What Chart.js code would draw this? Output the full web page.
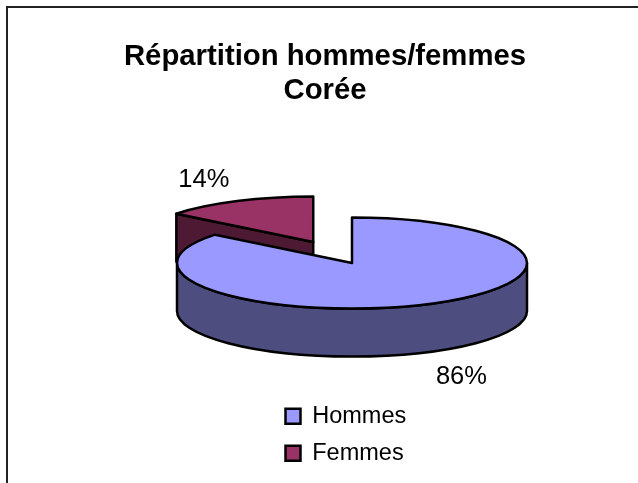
<!DOCTYPE html>
<html>
<head>
<meta charset="utf-8">
<title>Répartition hommes/femmes Corée</title>
<script src="https://cdn.jsdelivr.net/npm/chart.js@4"></script>
<style>
    html, body { margin: 0; padding: 0; background: #fff; }
    canvas { display: block; }
</style>
</head>
<body>
<canvas id="pieChart" width="638" height="483"></canvas>
<script>
const titleLines = ["Répartition hommes/femmes", "Corée"];
const categories = ["Hommes", "Femmes"];
const shares = [85.7, 14.3];
const topColors = ["#9999FF", "#993366"];
const wallColors = ["#4D4D80", "#4D1933"];
const explode = [0, 0.51];

const fontName = "'Liberation Sans', Arial, sans-serif";

// cadre du graphique : seulement haut et gauche sont visibles
const framePlugin = {
    id: "frame",
    beforeDraw(chart) {
        const ctx = chart.ctx;
        ctx.save();
        ctx.strokeStyle = "#222";
        ctx.lineWidth = 2;
        ctx.beginPath();
        ctx.moveTo(7, chart.height);
        ctx.lineTo(7, 7);
        ctx.lineTo(chart.width, 7);
        ctx.stroke();
        ctx.restore();
    }
};

// camembert 3D : reprend les angles calculés par Chart.js et les aplatit en ellipse
const pie3dPlugin = {
    id: "pie3d",
    afterLayout(chart, args, opts) {
        chart.legend.left = opts.legendX;
        chart.legend.top = opts.legendY;
        chart.legend.bottom = opts.legendY + chart.legend.height;
        chart.legend.right = chart.width;
    },
    beforeDatasetDraw(chart, args, opts) {
        const ctx = chart.ctx;
        const arcs = args.meta.data;
        const depth = opts.depth;

        // la part détachée passe derrière
        const order = arcs.map((a, i) => i).sort((a, b) => explode[b] - explode[a]);
        ctx.save();
        ctx.lineWidth = 2.5;
        ctx.lineJoin = "round";
        ctx.strokeStyle = "#000";

        order.forEach(function (i) {
            const arc = arcs[i];
            const rx = arc.outerRadius;
            const ry = rx * opts.tilt;
            const start = arc.startAngle;
            const end = arc.endAngle;
            const mid = (start + end) / 2;
            const cx = opts.centerX + Math.cos(mid) * rx * explode[i];
            const cy = opts.centerY + Math.sin(mid) * ry * explode[i];
            const px = t => cx + Math.cos(t) * rx;
            const py = t => cy + Math.sin(t) * ry;

            ctx.fillStyle = wallColors[i];

            // faces de coupe visibles
            [[start, Math.cos(start) < -1e-6], [end, Math.cos(end) > 1e-6]].forEach(function (face) {
                if (!face[1]) return;
                ctx.beginPath();
                ctx.moveTo(cx, cy);
                ctx.lineTo(px(face[0]), py(face[0]));
                ctx.lineTo(px(face[0]), py(face[0]) + depth);
                ctx.lineTo(cx, cy + depth);
                ctx.closePath();
                ctx.fill();
                ctx.stroke();
            });

            // paroi avant
            const wallStart = Math.max(start, 0);
            const wallEnd = Math.min(end, Math.PI);
            if (wallEnd > wallStart) {
                ctx.beginPath();
                ctx.ellipse(cx, cy, rx, ry, 0, wallStart, wallEnd);
                ctx.ellipse(cx, cy + depth, rx, ry, 0, wallEnd, wallStart, true);
                ctx.closePath();
                ctx.fill();
                ctx.stroke();
            }

            // dessus
            ctx.fillStyle = topColors[i];
            ctx.beginPath();
            ctx.moveTo(cx, cy);
            ctx.ellipse(cx, cy, rx, ry, 0, start, end);
            ctx.closePath();
            ctx.fill();
            ctx.stroke();
        });

        // étiquettes en pourcentage
        const total = shares.reduce((a, b) => a + b, 0);
        ctx.fillStyle = "#000";
        ctx.font = "25.5px " + fontName;
        ctx.textAlign = "center";
        ctx.textBaseline = "middle";
        arcs.forEach(function (arc, i) {
            const rx = arc.outerRadius;
            const ry = rx * opts.tilt;
            const mid = (arc.startAngle + arc.endAngle) / 2;
            const cx = opts.centerX + Math.cos(mid) * rx * explode[i];
            const cy = opts.centerY + Math.sin(mid) * ry * explode[i];
            const x = cx + Math.cos(mid) * rx * 1.44;
            const y = cy + Math.sin(mid) * ry * 1.56 + (Math.sin(mid) > 0 ? depth : 0) + 2;
            ctx.fillText(Math.round(shares[i] / total * 100) + "%", x, y);
        });
        ctx.restore();
        return false;
    }
};

new Chart(document.getElementById("pieChart").getContext("2d"), {
    type: "pie",
    data: {
        labels: categories,
        datasets: [{
            data: shares,
            backgroundColor: topColors,
            borderColor: "#000",
            borderWidth: 2.5
        }]
    },
    options: {
        responsive: false,
        animation: false,
        radius: 175,
        layout: { padding: { left: 12 } },
        plugins: {
            title: {
                display: true,
                text: titleLines,
                color: "#000",
                font: { family: fontName, size: 29.3, weight: "bold", lineHeight: 1.19 },
                padding: { top: 39, bottom: 10 }
            },
            legend: {
                position: "right",
                align: "start",
                labels: {
                    color: "#000",
                    font: { family: fontName, size: 23.5 },
                    boxWidth: 15,
                    boxHeight: 15,
                    padding: 13.5
                }
            },
            tooltip: { enabled: false },
            pie3d: { centerX: 352, centerY: 263, tilt: 0.26, depth: 48, legendX: 272, legendY: 391 }
        }
    },
    plugins: [framePlugin, pie3dPlugin]
});
</script>
</body>
</html>
